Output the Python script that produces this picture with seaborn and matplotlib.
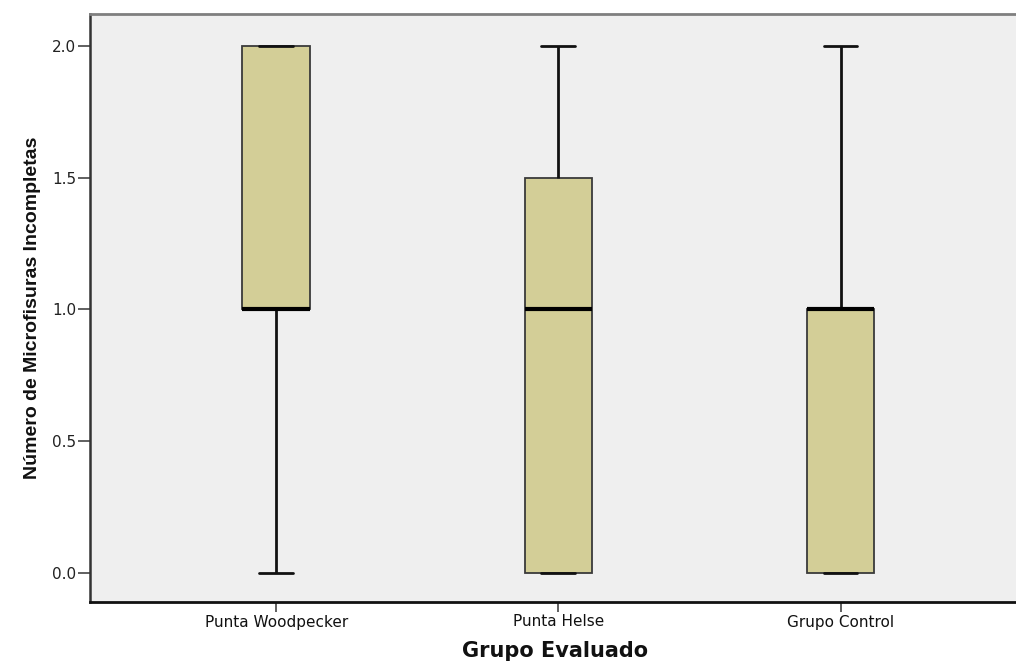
import matplotlib
matplotlib.use("Agg")
import matplotlib.pyplot as plt
import pandas as pd
import seaborn as sns

# Number of incomplete microcracks observed per specimen, by evaluated group
groups = ["Punta Woodpecker", "Punta Helse", "Grupo Control"]
woodpecker = [0, 1, 1, 1, 2, 2, 2]
helse = [0, 0, 0, 1, 1, 2, 2]
control = [0, 0, 0, 1, 1, 1, 2]
y_ticks = [0.0, 0.5, 1.0, 1.5, 2.0]

df = pd.DataFrame({
    "grupo": [groups[0]] * len(woodpecker) + [groups[1]] * len(helse) + [groups[2]] * len(control),
    "valor": woodpecker + helse + control,
})

sns.set_style("white")
plt.rcParams["font.family"] = ["DejaVu Sans"]

fig = plt.figure(figsize=(10.16, 6.64), dpi=100)
ax = fig.add_axes([90 / 1016, 1 - 602 / 664, 1 - 90 / 1016 + 0.005, (602 - 14) / 664])
ax.set_facecolor("#efefef")

sns.boxplot(
    data=df, x="grupo", y="valor", order=groups, ax=ax,
    color="#d3ce97", saturation=1, width=0.24, whis=(0, 100),
    linewidth=1.6, linecolor="#222222", fliersize=0,
    boxprops=dict(edgecolor="#3a3a3a", linewidth=1.3),
    whiskerprops=dict(color="#111111", linewidth=2.0),
    capprops=dict(color="#111111", linewidth=2.0),
    medianprops=dict(color="#000000", linewidth=3.0),
)

ax.set_xlim(-0.66, 2.64)
ax.set_ylim(-0.11, 2.121)
ax.set_yticks(y_ticks)
ax.set_yticklabels([f"{v:.1f}" for v in y_ticks])

ax.tick_params(axis="y", direction="out", length=9, width=1.2, color="#444444",
               labelsize=11, labelcolor="#222222", pad=1, left=True)
ax.tick_params(axis="x", direction="out", length=7, width=1.2, color="#444444",
               labelsize=11, labelcolor="#111111", pad=2, bottom=True)

for side in ["top", "bottom", "left"]:
    ax.spines[side].set_visible(True)
ax.spines["right"].set_visible(False)
ax.spines["top"].set_color("#7f7f7f")
ax.spines["top"].set_linewidth(2.0)
ax.spines["bottom"].set_color("#111111")
ax.spines["bottom"].set_linewidth(2.0)
ax.spines["left"].set_color("#333333")
ax.spines["left"].set_linewidth(1.8)

ax.set_xlabel("Grupo Evaluado", fontsize=15, fontweight="bold", labelpad=8, color="#111111")
ax.set_ylabel("Número de Microfisuras Incompletas", fontsize=14, fontweight="bold",
              family=["Liberation Sans Narrow", "Liberation Sans", "DejaVu Sans"],
              labelpad=8, color="#111111")

fig.savefig("out.png", dpi=100)
